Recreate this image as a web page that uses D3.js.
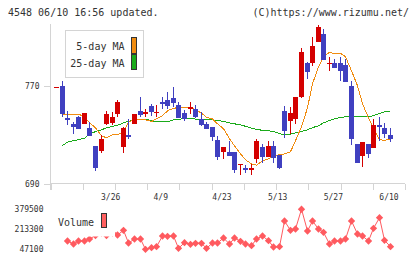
<!DOCTYPE html>
<html>
<head>
<meta charset="utf-8">
<script src="https://cdn.jsdelivr.net/npm/d3@7"></script>
<style>
body { margin: 0; background: #fff; }
text { font-family: "DejaVu Sans Mono", monospace; fill: #333; }
</style>
</head>
<body>
<div id="chart"></div>
<script>
// daily prices, oldest first (last = 6/10)
var opens  = [768.4,769.8,743.4,738.2,743.9,739.0,735.7,721.0,716.9,739.0,739.8,747.1,719.4,729.8,739.0,749.3,747.1,753.4,747.7,756.9,758.3,760.0,754.2,747.7,750.7,751.0,742.6,738.5,736.3,725.9,716.1,716.1,716.1,705.8,702.8,701.2,710.2,720.0,711.8,720.8,713.4,749.3,741.4,743.1,761.0,788.5,788.5,805.6,812.2,788.3,788.5,788.5,786.9,769.8,722.4,712.9,722.4,719.4,737.9,735.5,729.2];
var highs  = [768.4,773.8,749.1,740.4,745.5,747.7,740.6,721.0,729.2,749.3,748.5,757.8,736.5,742.8,746.9,760.5,751.2,755.3,754.2,760.8,764.9,768.9,756.7,750.2,756.7,754.2,748.0,740.6,736.3,728.4,720.2,725.1,716.1,706.1,704.7,706.1,726.5,722.4,724.9,724.9,713.4,753.4,752.6,760.8,800.8,789.3,809.8,819.5,816.3,793.4,791.8,793.4,791.8,773.8,722.4,724.0,722.4,742.8,744.4,739.5,735.5];
var lows   = [768.4,743.9,737.9,730.8,734.4,739.0,729.2,699.8,715.3,737.9,737.9,743.9,715.3,726.5,739.0,743.9,743.9,744.7,744.4,750.7,751.0,752.6,743.9,741.4,746.9,743.1,737.3,734.1,724.3,708.8,710.4,713.2,698.5,697.1,698.2,697.3,706.9,706.9,711.8,707.1,702.0,727.3,730.8,738.2,760.0,775.7,786.3,805.6,791.0,782.0,784.4,773.8,773.0,721.8,707.1,703.1,711.2,719.4,724.9,727.3,723.5];
var closes = [768.6,746.7,741.8,736.0,734.4,747.7,729.2,703.1,726.7,746.9,744.4,756.9,734.9,727.9,746.9,746.3,748.5,748.8,748.5,755.1,753.4,755.9,743.9,743.1,752.6,744.4,737.3,734.1,728.4,712.0,720.2,713.2,701.4,706.1,701.2,702.8,724.9,711.8,720.8,711.0,702.8,733.0,747.7,760.8,797.5,781.4,802.4,817.9,791.0,788.5,784.4,782.0,773.0,726.7,707.1,724.0,714.5,737.9,736.0,730.8,725.9];

var ma5  = [null,746.7,746.7,746.7,746.7,744.4,739.5,735.5,728.9,727.3,729.8,729.8,732.2,740.1,742.4,742.6,742.0,740.6,742.8,745.3,749.3,751.5,751.8,751.8,751.8,750.2,747.5,744.0,742.8,738.7,734.7,726.5,720.8,714.2,709.3,706.1,704.9,708.5,710.2,712.6,713.4,714.2,715.9,724.9,736.3,751.8,771.4,785.2,793.4,797.1,795.9,796.4,793.4,782.0,769.8,755.1,743.6,735.5,725.7,725.3,726.1];
var ma25 = [null,721.0,723.8,724.9,725.7,727.0,730.2,732.4,733.8,735.5,736.7,737.5,739.5,740.8,742.0,742.6,742.6,741.2,740.4,740.4,740.4,742.0,742.4,743.1,743.1,742.6,742.6,742.2,742.0,741.4,740.8,739.5,738.7,737.9,736.7,735.1,734.2,733.4,733.0,732.6,730.6,729.8,730.2,731.4,732.6,733.8,735.6,737.1,739.5,741.4,742.8,744.0,744.4,744.4,744.4,744.4,744.4,745.5,747.1,748.5,749.3];

var volumes = [null,null,114000,89000,114000,114000,130800,160100,181100,160100,181100,164300,203700,97300,130800,130800,44600,58000,66400,155900,153400,155900,53000,99900,86500,94800,94800,53000,97300,97300,139200,89000,139200,111600,89000,74700,130800,155900,116600,63800,66400,281500,203700,214600,380000,197800,281500,214600,186900,89000,114100,114100,130800,281500,172700,155900,114100,220400,309200,119900,66400];

var dateLabels = ["3/26", "4/9", "4/23", "5/13", "5/27", "6/10"];
var dateIndex  = [10, 19, 30, 40, 50, 60];
var priceTicks = [690, 770];
var volumeTicks = [379500, 213300, 47100];

var red = "#d40000", blue = "#4040c0";
var orange = "#f08c10", green = "#1aaa1a", pink = "#ff5a5f";
var gray = "#d4d4d4";

var svg = d3.select("#chart")
  .append("svg")
  .attr("width", 420)
  .attr("height", 259);

// scales
var x = d3.scaleLinear().domain([0, 60]).range([56.5, 390.5]);
var y = d3.scaleLinear().domain([690, 770]).range([183.5, 85.5]);
var yv = d3.scaleLinear().domain([47100, 379500]).range([249, 209.3]);
var grid = d3.scaleLinear().domain([0, 11]).range([50.5, 405]);

function px(i) { return Math.floor(x(i)) + 0.5; }

// header
svg.append("text").attr("x", 8).attr("y", 16).style("font-size", "10px")
  .text("4548 06/10 16:56 updated.");
svg.append("text").attr("x", 409).attr("y", 16).attr("text-anchor", "end").style("font-size", "10px")
  .text("(C)https://www.rizumu.net/");

// frame
var frame = svg.append("g").attr("shape-rendering", "crispEdges").attr("stroke", gray);
frame.append("line").attr("x1", 50.5).attr("x2", 50.5).attr("y1", y(820)).attr("y2", 189.5);
frame.append("line").attr("x1", 50.5).attr("x2", 405).attr("y1", y(690)).attr("y2", y(690));
frame.selectAll(".gt").data(d3.range(12)).enter().append("line")
  .attr("x1", d => Math.round(grid(d)) + 0.5).attr("x2", d => Math.round(grid(d)) + 0.5)
  .attr("y1", y(690)).attr("y2", 189.5);

// price axis
var leftAxis = d3.axisLeft(y).tickValues(priceTicks).tickSize(7).tickPadding(4);
var yAxis = svg.append("g").attr("transform", "translate(50.5,0)").call(leftAxis);
yAxis.select(".domain").remove();
yAxis.selectAll("line").attr("stroke", gray).attr("shape-rendering", "crispEdges");
yAxis.selectAll("text").style("font-size", "8px").style("font-family", "DejaVu Sans Mono").attr("fill", "#333");

// date labels
svg.selectAll(".dl").data(dateLabels).enter().append("text")
  .attr("x", (d, i) => x(dateIndex[i]) - 1.5)
  .attr("y", 200)
  .attr("text-anchor", "middle")
  .style("font-size", "8px")
  .text(d => d);

// moving averages
var maLine = d3.line()
  .defined(d => d != null)
  .x((d, i) => px(i))
  .y(d => y(d));

svg.append("path").datum(ma25).attr("d", maLine)
  .attr("fill", "none").attr("stroke", green).attr("stroke-width", 1).attr("shape-rendering", "crispEdges");
svg.append("path").datum(ma5).attr("d", maLine)
  .attr("fill", "none").attr("stroke", orange).attr("stroke-width", 1).attr("shape-rendering", "crispEdges");

// candles
var candles = svg.append("g").attr("shape-rendering", "crispEdges");
candles.selectAll("line").data(opens).enter().append("line")
  .attr("x1", (d, i) => px(i)).attr("x2", (d, i) => px(i))
  .attr("y1", (d, i) => y(highs[i])).attr("y2", (d, i) => y(lows[i]))
  .attr("stroke", (d, i) => closes[i] >= d ? red : blue);
candles.selectAll("rect").data(opens).enter().append("rect")
  .attr("x", (d, i) => px(i) - 2.5)
  .attr("width", 5)
  .attr("y", (d, i) => Math.round(y(Math.max(d, closes[i]))))
  .attr("height", (d, i) => Math.max(1, Math.round(Math.abs(y(d) - y(closes[i])))))
  .attr("fill", (d, i) => closes[i] >= d ? red : blue);

// MA legend
var legend = svg.append("g");
legend.append("rect").attr("x", 65.5).attr("y", 30.5).attr("width", 78).attr("height", 47)
  .attr("fill", "#fff").attr("stroke", gray).attr("shape-rendering", "crispEdges");
legend.append("text").attr("x", 124.5).attr("y", 50).attr("text-anchor", "end").style("font-size", "10px").text("5-day MA");
legend.append("text").attr("x", 124.5).attr("y", 67).attr("text-anchor", "end").style("font-size", "10px").text("25-day MA");
legend.append("rect").attr("x", 131.5).attr("y", 37.5).attr("width", 5).attr("height", 16)
  .attr("fill", orange).attr("stroke", "#333").attr("shape-rendering", "crispEdges");
legend.append("rect").attr("x", 131.5).attr("y", 54.5).attr("width", 5).attr("height", 15)
  .attr("fill", green).attr("stroke", "#333").attr("shape-rendering", "crispEdges");

// volume
var volPoints = volumes.map((v, i) => ({ i: i, v: v })).filter(d => d.v != null);

var volLine = d3.line()
  .x(d => px(d.i))
  .y(d => yv(d.v));
svg.append("path").datum(volPoints).attr("d", volLine)
  .attr("fill", "none").attr("stroke", pink).attr("stroke-width", 1);
svg.selectAll(".vp").data(volPoints).enter()
  .append("path")
  .attr("class", "vp")
  .attr("transform", d => `translate(${px(d.i)},${yv(d.v)})`)
  .attr("d", d3.symbol(d3.symbolDiamond2, 34))
  .attr("fill", pink);

svg.selectAll(".vl").data(volumeTicks).enter().append("text")
  .attr("x", 43.5).attr("y", d => yv(d))
  .attr("dy", "0.35em")
  .attr("text-anchor", "end")
  .style("font-size", "8px")
  .text(d => d);

// volume legend (white box hides the points behind)
svg.append("rect").attr("x", 54).attr("y", 207).attr("width", 61).attr("height", 29.5).attr("fill", "#fff");
svg.append("text").attr("x", 58).attr("y", 225.5).style("font-size", "10px").text("Volume");
svg.append("rect").attr("x", 101.5).attr("y", 213.5).attr("width", 5).attr("height", 14)
  .attr("fill", "#ff6060").attr("stroke", "#333").attr("shape-rendering", "crispEdges");
</script>
</body>
</html>
